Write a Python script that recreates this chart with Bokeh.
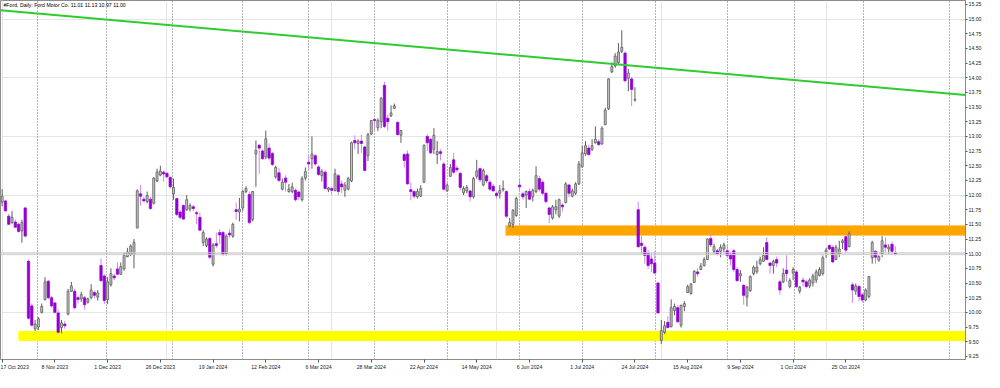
from bokeh.plotting import figure
from bokeh.models import (FixedTicker, LinearAxis, Span, Label, ColumnDataSource,
                          NumeralTickFormatter, Range1d, Grid)
from bokeh.embed import file_html
from bokeh.resources import INLINE

# ---------------- data ----------------
opens = [11.88, 11.90, 11.64, 11.53, 11.54, 11.50, 11.39, 11.78, 10.87, 10.11,
         9.72, 9.75, 10.00, 10.22, 10.53, 10.25, 10.16, 9.99, 9.74, 9.80,
         9.97, 10.36, 10.36, 10.25, 10.23, 10.25, 10.17, 10.25, 10.34, 10.26,
         10.80, 10.62, 10.22, 10.47, 10.62, 10.74, 10.65, 10.74, 10.95, 10.99,
         10.98, 11.44, 12.02, 11.93, 11.89, 11.93, 11.86, 12.24, 12.34, 12.39,
         12.37, 12.30, 12.02, 11.94, 11.71, 11.82, 11.75, 11.76, 11.80, 11.70,
         11.62, 11.19, 11.14, 11.26, 10.82, 11.17, 11.36, 11.36, 11.00, 11.35,
         11.30, 11.75, 11.71, 11.78, 12.06, 12.01, 11.58, 12.70, 12.85, 12.75,
         12.65, 12.80, 12.71, 12.31, 12.38, 12.10, 12.29, 12.06, 12.06, 12.08,
         12.05, 11.92, 12.29, 12.56, 12.62, 12.67, 12.48, 12.33, 12.39, 12.09,
         12.11, 12.08, 12.33, 12.19, 12.08, 12.10, 12.24, 12.93, 12.88, 12.92,
         12.82, 12.67, 13.04, 13.29, 13.15, 13.25, 13.87, 13.31, 13.35, 13.48,
         13.24, 13.02, 12.69, 12.70, 12.09, 12.06, 11.97, 11.98, 12.22, 13.00,
         12.95, 12.78, 12.69, 12.74, 12.53, 12.07, 12.32, 12.60, 12.46, 12.37,
         12.04, 12.07, 12.07, 11.97, 12.32, 12.45, 12.17, 12.33, 12.22, 12.15,
         12.03, 12.03, 12.09, 12.06, 11.47, 11.50, 11.65, 12.17, 12.02, 12.00,
         12.06, 11.97, 12.06, 12.28, 12.22, 12.03, 11.78, 11.61, 11.75, 11.64,
         11.83, 11.87, 12.17, 11.98, 12.03, 12.19, 12.48, 12.70, 12.80, 12.78,
         12.89, 12.91, 12.87, 13.20, 13.47, 14.10, 14.20, 14.26, 14.45, 14.42,
         13.99, 13.98, 13.62, 11.75, 11.18, 11.11, 11.00, 10.91, 10.84, 10.50,
         9.52, 9.66, 9.83, 9.76, 10.03, 10.08, 9.78, 10.10, 10.34, 10.32,
         10.51, 10.69, 10.73, 10.80, 10.90, 11.26, 11.04, 11.05, 11.04, 11.08,
         11.05, 10.99, 11.05, 10.73, 10.62, 10.46, 10.26, 10.37, 10.66, 10.69,
         10.83, 10.87, 11.19, 10.84, 10.80, 10.90, 10.52, 10.52, 10.72, 10.44,
         10.67, 10.69, 10.36, 10.55, 10.52, 10.45, 10.50, 10.55, 10.63, 10.66,
         11.03, 11.14, 11.11, 10.90, 11.00, 11.19, 11.29, 11.12, 10.47, 10.36,
         10.44, 10.30, 10.21, 10.27, 10.93, 11.04, 10.89, 11.00, 11.15, 11.08,
         11.16, 11.01]
highs = [12.10, 11.92, 11.68, 11.73, 11.58, 11.53, 11.58, 11.80, 10.90, 10.15,
         9.87, 9.92, 10.15, 10.60, 10.55, 10.28, 10.18, 10.05, 9.87, 9.85,
         10.40, 10.52, 10.40, 10.28, 10.35, 10.28, 10.25, 10.48, 10.37, 10.38,
         10.92, 10.65, 10.60, 10.75, 10.66, 10.85, 10.85, 11.02, 11.10, 11.16,
         11.25, 12.10, 12.17, 11.97, 12.06, 11.97, 12.30, 12.45, 12.50, 12.42,
         12.39, 12.32, 12.28, 11.95, 11.75, 11.84, 12.00, 11.86, 11.83, 11.73,
         11.70, 11.40, 11.28, 11.28, 11.18, 11.36, 11.42, 11.39, 11.33, 11.42,
         11.53, 11.87, 11.95, 12.09, 12.15, 12.06, 12.07, 12.93, 12.87, 12.78,
         13.10, 12.88, 12.73, 12.50, 12.46, 12.28, 12.34, 12.19, 12.21, 12.11,
         12.08, 12.32, 12.47, 12.67, 13.00, 12.70, 12.51, 12.44, 12.42, 12.14,
         12.14, 12.45, 12.36, 12.25, 12.22, 12.31, 12.91, 13.02, 12.95, 13.03,
         12.84, 13.06, 13.28, 13.31, 13.31, 13.67, 13.93, 13.37, 13.53, 13.56,
         13.25, 13.11, 12.71, 12.76, 12.22, 12.08, 12.11, 12.17, 12.86, 13.03,
         12.97, 13.14, 12.92, 12.78, 12.56, 12.20, 12.53, 12.72, 12.50, 12.39,
         12.15, 12.17, 12.09, 12.31, 12.60, 12.47, 12.45, 12.36, 12.25, 12.19,
         12.06, 12.17, 12.25, 12.08, 11.61, 11.76, 11.97, 12.28, 12.06, 12.08,
         12.11, 12.11, 12.49, 12.33, 12.25, 12.06, 11.80, 11.83, 11.92, 11.94,
         11.86, 12.22, 12.19, 12.11, 12.22, 12.58, 12.84, 12.92, 12.86, 12.95,
         13.17, 12.95, 13.17, 13.49, 13.99, 14.26, 14.42, 14.59, 14.81, 14.45,
         14.15, 14.01, 13.84, 11.89, 11.30, 11.14, 11.06, 11.00, 11.04, 10.52,
         9.87, 9.85, 9.94, 10.22, 10.15, 10.12, 10.13, 10.19, 10.47, 10.50,
         10.72, 10.75, 10.84, 10.94, 11.26, 11.33, 11.17, 11.08, 11.16, 11.19,
         11.14, 11.03, 11.08, 10.77, 10.72, 10.48, 10.45, 10.63, 10.80, 10.88,
         10.95, 11.11, 11.28, 10.86, 10.90, 10.95, 10.55, 10.75, 10.97, 10.58,
         10.77, 10.72, 10.45, 10.60, 10.56, 10.58, 10.66, 10.73, 10.77, 10.97,
         11.10, 11.16, 11.14, 11.15, 11.22, 11.25, 11.30, 11.38, 10.51, 10.49,
         10.47, 10.33, 10.41, 10.62, 11.22, 11.06, 10.97, 11.30, 11.28, 11.16,
         11.21, 11.13]
lows = [11.81, 11.72, 11.49, 11.51, 11.44, 11.36, 11.19, 11.28, 9.88, 9.76,
        9.68, 9.70, 9.98, 10.20, 10.22, 10.08, 9.98, 9.64, 9.64, 9.72,
        9.95, 10.35, 10.05, 10.15, 10.18, 10.05, 10.15, 10.22, 10.24, 10.20,
        10.52, 10.14, 10.14, 10.44, 10.55, 10.64, 10.64, 10.71, 10.94, 10.96,
        10.75, 11.43, 11.82, 11.89, 11.86, 11.75, 11.84, 12.22, 12.32, 12.23,
        12.29, 12.11, 11.92, 11.64, 11.58, 11.58, 11.73, 11.72, 11.72, 11.50,
        11.39, 11.13, 11.11, 10.91, 10.78, 11.10, 11.17, 10.96, 10.97, 11.27,
        11.27, 11.58, 11.55, 11.73, 12.03, 11.50, 11.55, 12.14, 12.36, 12.60,
        12.61, 12.59, 12.50, 12.28, 12.22, 12.08, 12.06, 12.04, 12.03, 11.89,
        11.92, 11.89, 12.25, 12.42, 12.45, 12.50, 12.33, 12.23, 12.10, 12.05,
        12.00, 12.06, 12.00, 12.03, 11.97, 12.08, 12.22, 12.78, 12.70, 12.72,
        12.41, 12.58, 13.02, 13.09, 13.09, 13.14, 13.14, 13.09, 13.33, 13.47,
        13.02, 12.89, 12.47, 12.18, 11.91, 11.94, 11.94, 11.97, 12.21, 12.75,
        12.70, 12.70, 12.53, 12.59, 12.08, 12.06, 12.31, 12.36, 12.39, 12.08,
        12.00, 12.03, 11.89, 11.94, 12.28, 12.22, 12.15, 12.20, 12.07, 12.06,
        11.94, 11.94, 12.06, 11.61, 11.46, 11.44, 11.63, 12.06, 11.92, 11.78,
        11.91, 11.89, 12.03, 12.06, 12.00, 11.86, 11.52, 11.58, 11.67, 11.61,
        11.72, 11.86, 11.97, 11.96, 12.00, 12.17, 12.47, 12.67, 12.67, 12.75,
        12.88, 12.84, 12.86, 13.19, 13.45, 14.08, 14.17, 14.23, 14.42, 13.92,
        13.77, 13.52, 13.59, 11.10, 11.00, 10.83, 10.74, 10.69, 10.66, 9.98,
        9.46, 9.63, 9.73, 9.74, 9.95, 9.82, 9.74, 10.02, 10.33, 10.30,
        10.50, 10.61, 10.72, 10.78, 10.89, 11.11, 11.00, 10.97, 10.94, 11.02,
        10.94, 10.80, 10.69, 10.52, 10.52, 10.13, 10.10, 10.35, 10.63, 10.66,
        10.80, 10.86, 10.89, 10.66, 10.66, 10.77, 10.30, 10.50, 10.52, 10.41,
        10.55, 10.41, 10.32, 10.44, 10.41, 10.41, 10.44, 10.50, 10.61, 10.63,
        10.93, 11.06, 10.84, 10.89, 10.94, 11.08, 11.01, 11.11, 10.16, 10.30,
        10.19, 10.17, 10.19, 10.24, 10.83, 10.83, 10.86, 10.94, 11.02, 11.00,
        11.00, 10.97]
closes = [11.98, 11.73, 11.50, 11.62, 11.45, 11.38, 11.53, 11.30, 9.90, 9.78,
          9.80, 9.89, 10.10, 10.52, 10.25, 10.11, 10.00, 9.66, 9.82, 9.77,
          10.36, 10.45, 10.08, 10.22, 10.30, 10.13, 10.23, 10.38, 10.29, 10.33,
          10.54, 10.20, 10.52, 10.66, 10.59, 10.65, 10.78, 10.97, 11.03, 11.13,
          11.19, 12.07, 11.98, 11.90, 11.99, 11.77, 12.29, 12.39, 12.41, 12.36,
          12.31, 12.14, 12.13, 11.67, 11.62, 11.59, 11.92, 11.82, 11.77, 11.68,
          11.40, 11.36, 11.25, 10.94, 11.15, 11.14, 11.32, 10.99, 11.30, 11.32,
          11.50, 11.72, 11.76, 12.06, 12.11, 11.53, 12.06, 12.76, 12.80, 12.62,
          12.96, 12.63, 12.52, 12.47, 12.25, 12.22, 12.22, 12.10, 12.14, 11.92,
          11.97, 12.28, 12.40, 12.53, 12.70, 12.53, 12.35, 12.40, 12.11, 12.12,
          12.08, 12.36, 12.06, 12.14, 12.17, 12.28, 12.89, 12.89, 12.92, 12.88,
          12.42, 13.03, 13.27, 13.27, 13.27, 13.65, 13.17, 13.25, 13.40, 13.52,
          13.03, 13.10, 12.59, 12.19, 12.06, 11.98, 12.06, 12.11, 12.85, 12.89,
          12.72, 13.02, 12.74, 12.71, 12.10, 12.17, 12.47, 12.39, 12.43, 12.13,
          12.11, 12.13, 11.97, 12.28, 12.41, 12.26, 12.42, 12.24, 12.10, 12.07,
          11.99, 12.08, 12.11, 11.64, 11.53, 11.74, 11.94, 12.14, 11.97, 12.06,
          11.93, 12.08, 12.33, 12.10, 12.03, 11.89, 11.67, 11.80, 11.80, 11.92,
          11.80, 12.19, 12.03, 12.07, 12.19, 12.53, 12.72, 12.84, 12.69, 12.84,
          12.95, 12.86, 13.14, 13.45, 13.98, 14.19, 14.37, 14.44, 14.52, 13.95,
          14.08, 13.80, 13.63, 11.12, 11.14, 10.97, 10.80, 10.83, 10.67, 9.99,
          9.69, 9.77, 9.74, 10.08, 10.10, 9.84, 10.12, 10.15, 10.44, 10.48,
          10.70, 10.66, 10.79, 10.90, 11.25, 11.15, 11.12, 11.00, 11.11, 11.15,
          10.97, 10.91, 10.73, 10.54, 10.66, 10.29, 10.43, 10.61, 10.77, 10.77,
          10.90, 10.97, 10.90, 10.80, 10.87, 10.84, 10.38, 10.66, 10.66, 10.54,
          10.73, 10.44, 10.43, 10.52, 10.44, 10.55, 10.62, 10.69, 10.73, 10.93,
          11.06, 11.08, 10.86, 11.11, 11.08, 11.22, 11.06, 11.34, 10.38, 10.45,
          10.27, 10.21, 10.38, 10.61, 11.19, 10.94, 10.95, 11.22, 11.11, 11.11,
          11.04, 11.00]

date_tick_bars = [0, 16, 32, 48, 64, 80, 96, 112, 128, 144, 160, 176, 192, 208, 224, 240, 256]
date_tick_labels = ["17 Oct 2023", "8 Nov 2023", "1 Dec 2023", "26 Dec 2023", "19 Jan 2024",
                    "12 Feb 2024", "6 Mar 2024", "28 Mar 2024", "22 Apr 2024", "14 May 2024",
                    "6 Jun 2024", "1 Jul 2024", "24 Jul 2024", "15 Aug 2024", "9 Sep 2024",
                    "1 Oct 2024", "25 Oct 2024"]
month_separator_bars = [10.8, 31.8, 51.8, 72.9, 93.0, 113.0, 135.0, 157.0, 176.0,
                        198.2, 220.2, 240.3, 261.3, 287.3]
price_ticks = [9.25, 9.50, 9.75, 10.00, 10.25, 10.50, 10.75, 11.00, 11.25, 11.50,
               11.75, 12.00, 12.25, 12.50, 12.75, 13.00, 13.25, 13.50, 13.75, 14.00,
               14.25, 14.50, 14.75, 15.00, 15.25]

support_zone = {"left": 4.9, "bottom": 9.51, "top": 9.68}
resistance_zone = {"left": 152.8, "bottom": 11.31, "top": 11.48}
trend_bars = [-0.5, 292.3]
trend_prices = [15.15, 13.705]
last_price = 11.00
title_text = "#Ford, Daily:  Ford Motor Co.  11.01 11.13 10.97 11.00"

# ---------------- figure ----------------
X_MIN, X_MAX = -0.5, 292.3
Y_MIN, Y_MAX = 9.196, 15.317
FONT = "Liberation Sans"
FS = "5.2px"

p = figure(width=984, height=372, output_backend="svg", toolbar_location=None,
           x_range=Range1d(X_MIN, X_MAX), y_range=Range1d(Y_MIN, Y_MAX),
           x_axis_location=None, y_axis_location=None, min_border=0)
p.outline_line_color = "#8c8c8c"
p.background_fill_color = "white"
p.border_fill_color = "white"

xaxis = LinearAxis(ticker=FixedTicker(ticks=date_tick_bars),
                   major_label_overrides={b: t for b, t in zip(date_tick_bars, date_tick_labels)})
xaxis.axis_line_color = "#8c8c8c"
xaxis.major_tick_line_color = "#555555"
xaxis.major_tick_in = 0
xaxis.major_tick_out = 3
xaxis.minor_tick_line_color = None
xaxis.major_label_text_font = FONT
xaxis.major_label_text_font_size = FS
xaxis.major_label_text_color = "#222222"
xaxis.major_label_text_align = "left"
xaxis.major_label_standoff = 1
p.add_layout(xaxis, "below")

yaxis = LinearAxis(ticker=FixedTicker(ticks=price_ticks), formatter=NumeralTickFormatter(format="0.00"))
yaxis.axis_line_color = "#8c8c8c"
yaxis.major_tick_line_color = "#555555"
yaxis.major_tick_in = 0
yaxis.major_tick_out = 2
yaxis.minor_tick_line_color = None
yaxis.major_label_text_font = FONT
yaxis.major_label_text_font_size = FS
yaxis.major_label_text_color = "#222222"
yaxis.major_label_standoff = 1
p.add_layout(yaxis, "right")

grid = Grid(dimension=0, ticker=FixedTicker(ticks=month_separator_bars),
            grid_line_color="#6a6a6a", grid_line_dash="1 2", grid_line_width=1)
p.add_layout(grid)

# zones (drawn behind candles)
p.quad(left=[support_zone["left"]], right=[X_MAX + 5], bottom=[support_zone["bottom"]],
       top=[support_zone["top"]], fill_color="#ffff00", line_color=None)
p.quad(left=[resistance_zone["left"]], right=[X_MAX + 5], bottom=[resistance_zone["bottom"]],
       top=[resistance_zone["top"]], fill_color="#ffa500", line_color="#ffc870", line_width=1)

# current price double line
for off in (-0.016, 0.016):
    p.add_layout(Span(location=last_price + off, dimension="width",
                      line_color="#cfcfcf", line_width=1))

# candles
n = len(opens)
idx = list(range(n))
up = [i for i in idx if closes[i] >= opens[i]]
dn = [i for i in idx if closes[i] < opens[i]]

def src(ids):
    return ColumnDataSource(dict(
        x=ids,
        h=[max(highs[i], opens[i], closes[i]) for i in ids],
        l=[min(lows[i], opens[i], closes[i]) for i in ids],
        top=[max(opens[i], closes[i]) for i in ids],
        bot=[min(opens[i], closes[i]) for i in ids],
    ))

s_up, s_dn = src(up), src(dn)
p.segment(x0="x", y0="l", x1="x", y1="h", source=s_dn, line_color="#c98aee", line_width=1)
p.segment(x0="x", y0="l", x1="x", y1="h", source=s_up, line_color="#5e5e5e", line_width=1)
p.vbar(x="x", width=0.72, top="top", bottom="bot", source=s_dn,
       fill_color="#9400d3", line_color="#9400d3", line_width=0.7)
p.vbar(x="x", width=0.6, top="top", bottom="bot", source=s_up,
       fill_color="#c6c6c6", line_color="#5e5e5e", line_width=0.8)

# trend line
p.line(trend_bars, trend_prices, line_color="#2ecc2e", line_width=2)

# title text
p.add_layout(Label(x=0.4, y=15.29, text=title_text, text_font=FONT, text_font_size=FS,
                   text_color="black", text_baseline="top"))

# last price label on the axis (highlighted box)
p.add_layout(Label(x=X_MAX, y=last_price, x_offset=2, text="11.00", text_font=FONT,
                   text_font_size=FS, text_color="white", text_baseline="middle",
                   background_fill_color="#b4b4b4", level="overlay"))

open("out.html", "w").write(file_html(p, INLINE))
